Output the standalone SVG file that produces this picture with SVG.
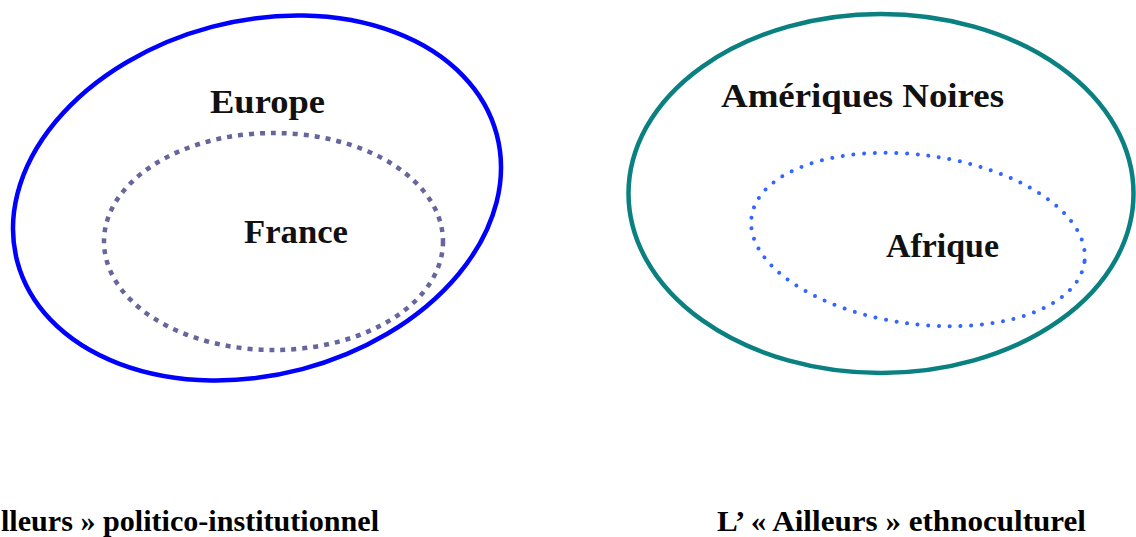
<svg xmlns="http://www.w3.org/2000/svg" width="1136" height="537" viewBox="0 0 1136 537">
<style>
text{font-family:'Liberation Serif','DejaVu Serif','Times New Roman',serif;font-weight:bold}
.lbl{font-size:34px;fill:#111}
.cap{font-size:30px;fill:#000}
.outer{fill:none;stroke-width:4.5}
</style>
<rect width="1136" height="537" fill="#fff"/>
<g id="europe">
<ellipse class="outer" cx="257" cy="198" rx="248" ry="177" transform="rotate(-14.8 257 198)" stroke="#0000ff"/>
<text class="lbl" x="210" y="113" textLength="115" lengthAdjust="spacingAndGlyphs" font-family="Liberation Serif, serif">Europe</text>
</g>
<g id="france">
<ellipse cx="273.5" cy="241.5" rx="169.5" ry="108.5" fill="none" stroke="#66669c" stroke-width="4.5" stroke-dasharray="5 6"/>
<text class="lbl" x="244" y="243" textLength="104" lengthAdjust="spacingAndGlyphs" font-family="Liberation Serif, serif">France</text>
</g>
<g id="ameriques">
<ellipse class="outer" cx="881" cy="193.5" rx="252.5" ry="179.5" stroke="#0a8080"/>
<text class="lbl" x="721" y="107" textLength="283" lengthAdjust="spacingAndGlyphs" font-family="Liberation Serif, serif">Amériques Noires</text>
</g>
<g id="afrique">
<ellipse cx="918" cy="239.5" rx="168" ry="84.5" transform="rotate(7.7 918 239.5)" fill="none" stroke="#3366ff" stroke-width="4" stroke-linecap="round" stroke-dasharray="0 10.7"/>
<text class="lbl" x="886" y="257" textLength="113" lengthAdjust="spacingAndGlyphs" font-family="Liberation Serif, serif">Afrique</text>
</g>
<g id="captions">
<text class="cap" x="1" y="531" textLength="378" lengthAdjust="spacingAndGlyphs" font-family="Liberation Serif, serif">lleurs » politico-institutionnel</text>
<text class="cap" x="717" y="531" textLength="369" lengthAdjust="spacingAndGlyphs" font-family="Liberation Serif, serif">L’ « Ailleurs » ethnoculturel</text>
</g>
<g id="connectors"/>
</svg>
